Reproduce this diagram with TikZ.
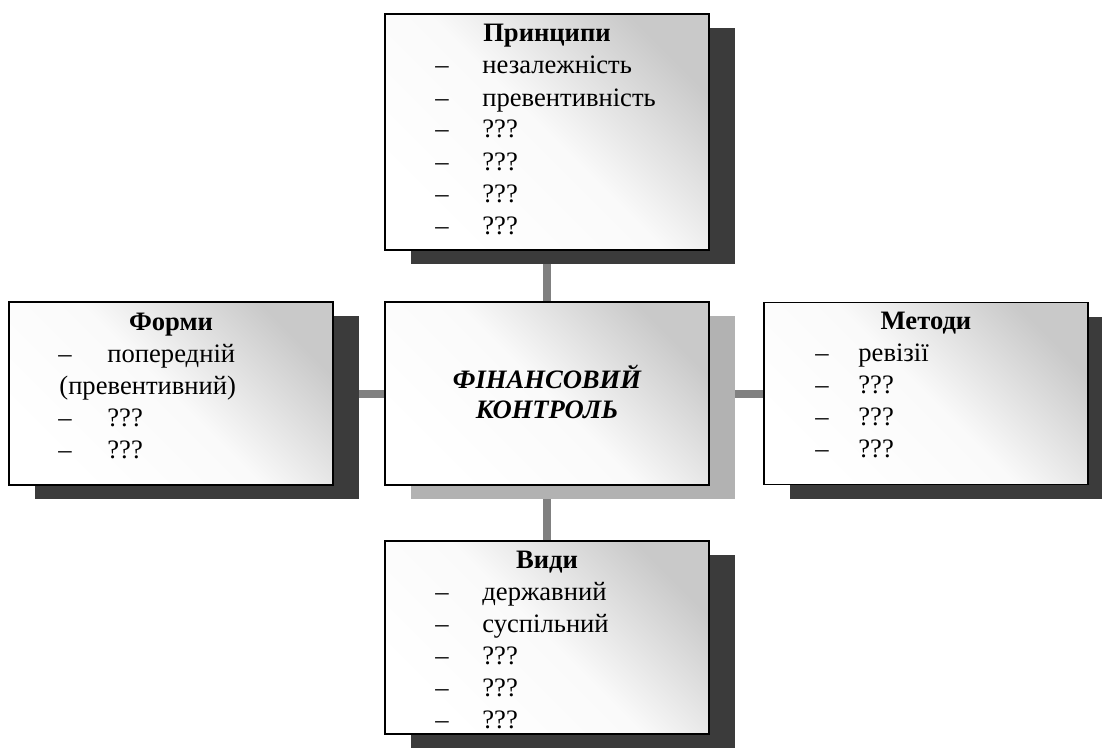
\documentclass[tikz,border=0pt]{standalone}
\usepackage{fontspec}
\setmainfont{Liberation Serif}
\usetikzlibrary{shadows,backgrounds}

\begin{document}
\begin{tikzpicture}[x=0.5pt,y=-0.5pt,
    panel/.style={draw=black,line width=0.8pt,inner sep=0pt,
      top color=black!21,bottom color=white,middle color=black!2,shading angle=-45,
      minimum width=162pt,
      drop shadow={shadow xshift=13pt,shadow yshift=-7pt,fill=#1,opacity=1}},
    panel/.default=black!77,
    link/.style={black!50,line width=4pt},
    head/.style={anchor=base,inner sep=0pt,font=\fontsize{13.3}{16}\selectfont\bfseries},
    item/.style={anchor=base west,inner sep=0pt,font=\fontsize{13.3}{16}\selectfont},
    hubtext/.style={anchor=base,inner sep=0pt,font=\fontsize{13.3}{15}\selectfont\bfseries\itshape}]
  \useasboundingbox (0,0) rectangle (1102,749);
  % the five boxes
  \node[panel,minimum height=118pt] (princ) at (547,132) {};
  \node[panel,minimum height=91.5pt] (forms) at (171,393.5) {};
  \node[panel=black!30,minimum height=91.5pt] (ctrl) at (547,393.5) {};
  \node[panel,minimum height=91pt] (meth) at (926,393.5) {};
  \node[panel,minimum height=96.5pt] (kinds) at (547,637.5) {};
  % links behind the shadows
  \begin{scope}[on background layer]
    \draw[link] (princ) -- (ctrl);
    \draw[link] (ctrl) -- (kinds);
    \draw[link] (forms) -- (ctrl);
    \draw[link] (ctrl) -- (meth);
  \end{scope}
  % centre
  \node[hubtext] (ctrl-1) at (547,388) {ФІНАНСОВИЙ};
  \node[hubtext] (ctrl-2) at (547,418) {КОНТРОЛЬ};
  % principles
  \node[head] (princ-t) at (547,42) {Принципи};
  \foreach \txt [count=\i] in {незалежність,превентивність,???,???,???,???}{
    \node[item] (princ-d\i) at (435,42+32*\i) {–};
    \node[item] (princ-\i) at (482,42+32*\i) {\txt};
  }
  % forms
  \node[head] (forms-t) at (171,330) {Форми};
  \node[item] (forms-d1) at (58,362) {–};
  \node[item] (forms-1) at (107,362) {попередній};
  \node[item] (forms-1b) at (59,394) {(превентивний)};
  \foreach \i/\y in {2/426,3/458}{
    \node[item] (forms-d\i) at (58,\y) {–};
    \node[item] (forms-\i) at (107,\y) {???};
  }
  % methods
  \node[head] (meth-t) at (926,329) {Методи};
  \foreach \txt [count=\i] in {ревізії,???,???,???}{
    \node[item] (meth-d\i) at (815,329+32*\i) {–};
    \node[item] (meth-\i) at (858,329+32*\i) {\txt};
  }
  % kinds
  \node[head] (kinds-t) at (547,568) {Види};
  \foreach \txt [count=\i] in {державний,суспільний,???,???,???}{
    \node[item] (kinds-d\i) at (435,568+32*\i) {–};
    \node[item] (kinds-\i) at (482,568+32*\i) {\txt};
  }
\end{tikzpicture}
\end{document}
